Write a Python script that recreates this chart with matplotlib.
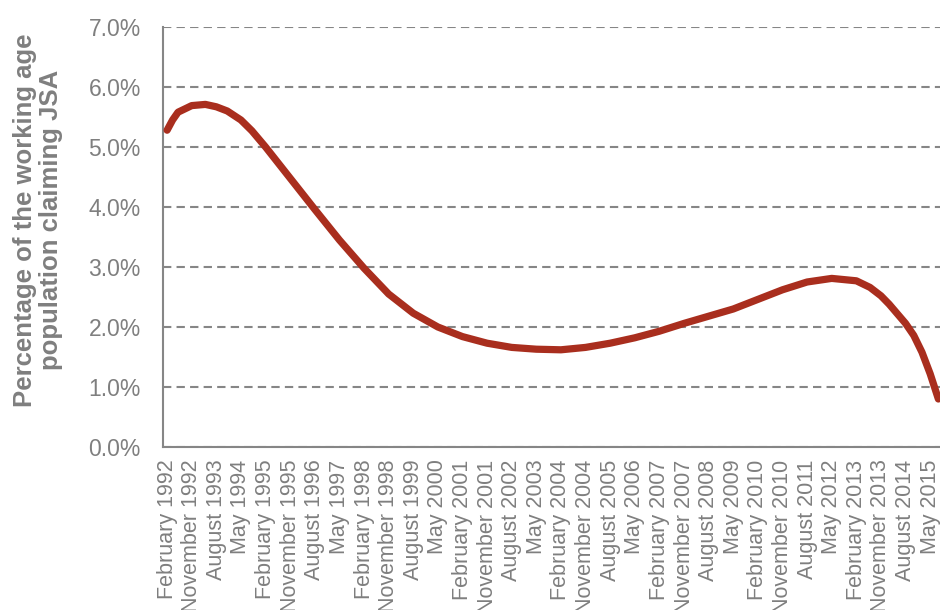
import matplotlib
matplotlib.use('Agg')
import matplotlib.pyplot as plt
from matplotlib.ticker import PercentFormatter

plt.rcParams['font.family'] = ['Liberation Sans', 'DejaVu Sans']

# months since February 1992, and share of working age population claiming JSA (%)
months = [0, 2, 4, 9, 14, 18, 22, 27, 31, 36, 45, 54, 63, 72, 81, 90, 99, 108,
          117, 126, 135, 144, 153, 162, 171, 180, 189, 198, 207, 216, 225,
          234, 243, 252, 257, 261, 264, 267, 270, 273, 276, 279, 282]
jsa_rate = [5.28, 5.45, 5.58, 5.69, 5.71, 5.67, 5.60, 5.45, 5.27, 5.00, 4.48,
            3.96, 3.45, 2.98, 2.55, 2.23, 2.00, 1.84, 1.73, 1.66, 1.63, 1.62,
            1.66, 1.73, 1.82, 1.93, 2.06, 2.18, 2.30, 2.46, 2.62, 2.75, 2.81,
            2.77, 2.66, 2.52, 2.38, 2.22, 2.06, 1.86, 1.58, 1.22, 0.80]

tick_labels = ['February 1992', 'November 1992', 'August 1993', 'May 1994',
               'February 1995', 'November 1995', 'August 1996', 'May 1997',
               'February 1998', 'November 1998', 'August 1999', 'May 2000',
               'February 2001', 'November 2001', 'August 2002', 'May 2003',
               'February 2004', 'November 2004', 'August 2005', 'May 2006',
               'February 2007', 'November 2007', 'August 2008', 'May 2009',
               'February 2010', 'November 2010', 'August 2011', 'May 2012',
               'February 2013', 'November 2013', 'August 2014', 'May 2015']
tick_months = list(range(0, 280, 9))

grey = '#868686'
fig = plt.figure(figsize=(9.4, 6.1), dpi=100)
ax = fig.add_axes([163/940, 1 - 447/610, 782/940, 420/610])

ax.plot(months, jsa_rate, color='#A92E1E', lw=5.2,
        solid_capstyle='round', solid_joinstyle='round', zorder=3)

ax.set_xlim(-1.5, -1.5 + 782/2.735)
ax.set_ylim(0, 7)
ax.set_yticks(range(0, 8))
ax.yaxis.set_major_formatter(PercentFormatter(decimals=1))
ax.set_xticks(tick_months)
ax.set_xticklabels(tick_labels, rotation=90)

ax.grid(axis='y', color=grey, lw=1.5, ls=(0, (4, 2.5)))
ax.set_axisbelow(True)
for s in ['top', 'right']:
    ax.spines[s].set_visible(False)
for s in ['left', 'bottom']:
    ax.spines[s].set_color(grey)
    ax.spines[s].set_linewidth(1.5)

ax.tick_params(axis='y', length=0, pad=16, labelsize=16.5, labelcolor='#7f7f7f')
ax.tick_params(axis='x', length=0, pad=9, labelsize=15.5, labelcolor='#7f7f7f')

fig.text(38/940, 1 - 220/610, 'Percentage of the working age\npopulation claiming JSA',
         rotation=90, ha='center', va='center', fontsize=18.5,
         fontweight='bold', color='#7f7f7f', linespacing=1.15)

fig.savefig('out.png', dpi=100)
